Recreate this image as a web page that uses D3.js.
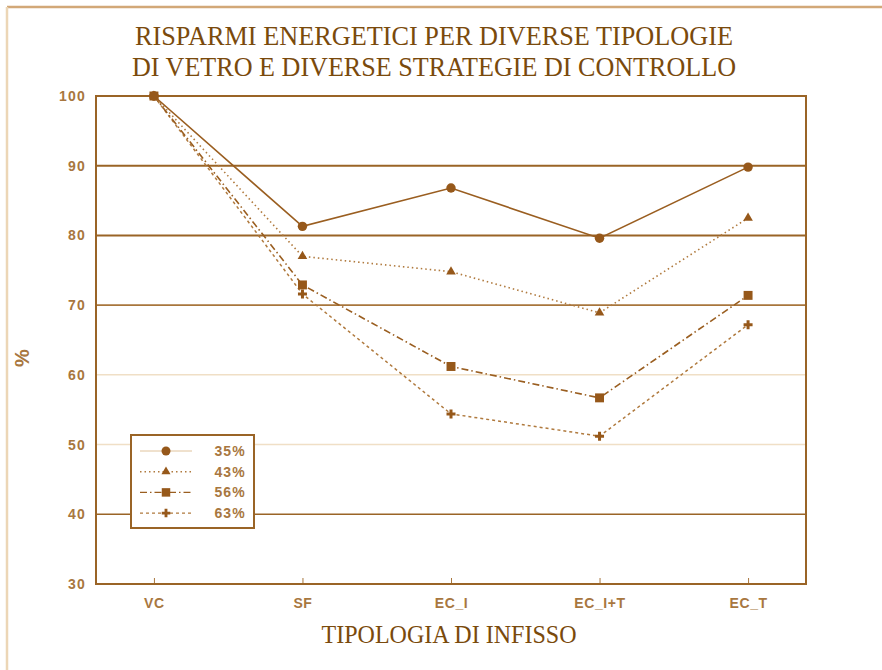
<!DOCTYPE html>
<html><head><meta charset="utf-8">
<script src="https://cdn.jsdelivr.net/npm/d3@7"></script>
<style>body{margin:0;background:#fff}svg{display:block}</style>
</head><body>
<svg id="c" width="882" height="670"></svg>
<script>
const categories = ["VC","SF","EC_I","EC_I+T","EC_T"];
const seriesNames = ["35%","43%","56%","63%"];
const s35 = [100, 81.3, 86.8, 79.6, 89.8];
const s43 = [100, 77.0, 74.8, 68.9, 82.5];
const s56 = [100, 72.9, 61.2, 56.7, 71.4];
const s63 = [100, 71.6, 54.4, 51.2, 67.2];
const yTicks = [30,40,50,60,70,80,90,100];
const titleLines = ["RISPARMI ENERGETICI PER DIVERSE TIPOLOGIE","DI VETRO E DIVERSE STRATEGIE DI CONTROLLO"];
const xTitle = "TIPOLOGIA DI INFISSO";
const yTitle = "%";

const svg = d3.select("#c");
const dark = "#9a6426", mark = "#96581a", txt = "#7a4a0c", light = "#f0dfc6", tick = "#a8773f";
const sans = "Liberation Sans, Arial, sans-serif";

// outer frame
svg.append("line").attr("x1",7).attr("y1",7).attr("x2",882).attr("y2",7).attr("stroke","#d2a878").attr("stroke-width",2.5);
svg.append("line").attr("x1",7).attr("y1",7).attr("x2",7).attr("y2",670).attr("stroke","#ecd6b6").attr("stroke-width",2.5);

const L=96, R=806, T=96, B=584;
const x = d3.scalePoint().domain(categories).range([L,R]).padding(0.39);
const y = d3.scaleLinear().domain([30,100]).range([B,T]);

// grid
const gridStyle = {100:[dark,2],90:[dark,2],80:[dark,2],70:["#a8763c",1.6],60:[light,1.5],50:[light,1.5],40:[dark,1.6]};
yTicks.filter(t=>t>30).forEach(t=>{
  svg.append("line").attr("x1",L).attr("x2",R).attr("y1",y(t)).attr("y2",y(t))
    .attr("stroke",gridStyle[t][0]).attr("stroke-width",gridStyle[t][1]);
});

// axes
const yAxis = d3.axisLeft(y).tickValues(yTicks).tickSize(0).tickPadding(10);
const gy = svg.append("g").attr("transform",`translate(${L},0)`).call(yAxis);
gy.select(".domain").remove();
gy.selectAll("text").attr("fill",tick).attr("font-family",sans).attr("font-weight","bold").attr("font-size",14).attr("letter-spacing",1.2);

const xAxis = d3.axisBottom(x).tickSizeInner(-6).tickSizeOuter(0).tickPadding(14);
const gx = svg.append("g").attr("transform",`translate(0,${B})`).call(xAxis);
gx.select(".domain").remove();
gx.selectAll("line").attr("stroke",tick).attr("stroke-width",1);
gx.selectAll("text").attr("fill",tick).attr("font-family",sans).attr("font-weight","bold").attr("font-size",14).attr("letter-spacing",0.6);

// frame lines
svg.append("line").attr("x1",L).attr("x2",L).attr("y1",T-1).attr("y2",B+1).attr("stroke",dark).attr("stroke-width",2);
svg.append("line").attr("x1",R).attr("x2",R).attr("y1",T-1).attr("y2",B+1).attr("stroke",dark).attr("stroke-width",2);
svg.append("line").attr("x1",L-1).attr("x2",R+1).attr("y1",B).attr("y2",B).attr("stroke",dark).attr("stroke-width",2.2);

// series
const series = [
  {name:seriesNames[0], vals:s35, dash:null, w:1.6, color:"#9a5e20", sym:d3.symbolCircle, size:70},
  {name:seriesNames[1], vals:s43, dash:"1.5,3", w:1.6, color:"#b07a3e", sym:d3.symbolTriangle, size:40},
  {name:seriesNames[2], vals:s56, dash:"7,3,1.5,3", w:1.6, color:"#9a5e20", sym:d3.symbolSquare, size:80},
  {name:seriesNames[3], vals:s63, dash:"3,3", w:1.5, color:"#b07a3e", sym:d3.symbolCross, size:45}
];
const line = d3.line().x((d,i)=>x(categories[i])).y(d=>y(d));
series.slice().reverse().forEach(s=>{
  svg.append("path").datum(s.vals).attr("d",line).attr("fill","none")
    .attr("stroke",s.color).attr("stroke-width",s.w).attr("stroke-dasharray",s.dash);
  svg.selectAll(null).data(s.vals).enter().append("path")
    .attr("d",d3.symbol().type(s.sym).size(s.size))
    .attr("transform",(d,i)=>`translate(${x(categories[i])},${y(d)})`)
    .attr("fill",mark);
});

// legend
const lg = svg.append("g");
lg.append("rect").attr("x",131).attr("y",435).attr("width",123).attr("height",93)
  .attr("fill","#fff").attr("stroke",dark).attr("stroke-width",2);
series.forEach((s,i)=>{
  const yy = 451 + i*20.7;
  lg.append("line").attr("x1",140).attr("x2",192).attr("y1",yy).attr("y2",yy)
    .attr("stroke",i==0?"#e0c39c":s.color).attr("stroke-width",i==0?1:1.4).attr("stroke-dasharray",s.dash);
  lg.append("path").attr("d",d3.symbol().type(s.sym).size(s.size*0.9)).attr("transform",`translate(166,${yy})`).attr("fill",mark);
  lg.append("text").attr("x",246).attr("y",yy+5).attr("text-anchor","end").text(s.name)
    .attr("fill",tick).attr("font-family",sans).attr("font-weight","bold").attr("font-size",14).attr("letter-spacing",1.2);
});

// titles
titleLines.forEach((t,i)=>{
  svg.append("text").attr("x",434).attr("y",45+i*31).attr("text-anchor","middle").text(t)
    .attr("fill",txt).attr("font-family","Liberation Serif, Times New Roman, serif").attr("font-size",28).attr("textLength",i==0?598:604).attr("lengthAdjust","spacingAndGlyphs");
});
svg.append("text").attr("x",449).attr("y",643).attr("text-anchor","middle").text(xTitle)
  .attr("fill",txt).attr("font-family","Liberation Serif, Times New Roman, serif").attr("font-size",25).attr("textLength",255).attr("lengthAdjust","spacingAndGlyphs");
svg.append("text").attr("transform","translate(29,358) rotate(-90)").attr("text-anchor","middle").text(yTitle)
  .attr("fill",tick).attr("font-family",sans).attr("font-weight","bold").attr("font-size",20);
</script>
</body></html>
